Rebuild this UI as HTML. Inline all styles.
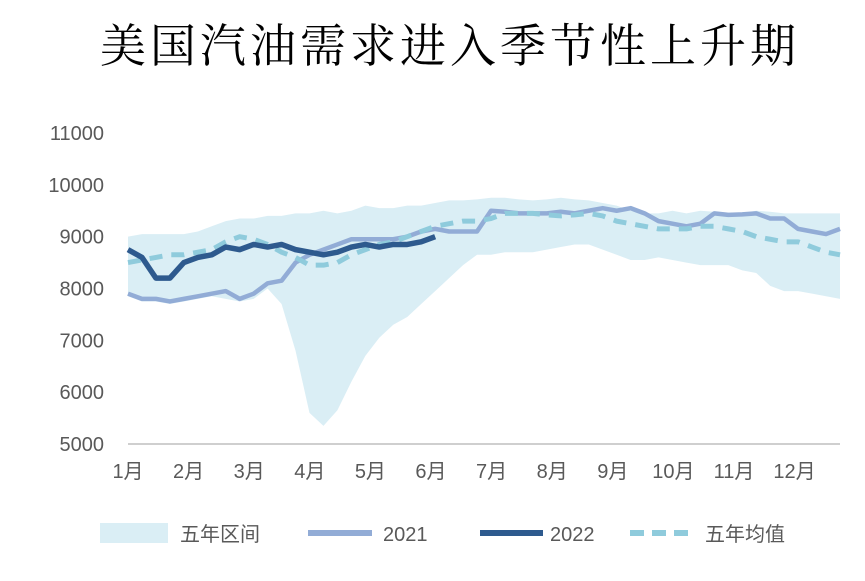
<!DOCTYPE html>
<html><head><meta charset="utf-8"><style>
body{margin:0;background:#fff;width:865px;height:576px;overflow:hidden}
svg text{font-family:"Liberation Sans","Noto Sans CJK SC",sans-serif;fill:#595959}
</style></head><body>
<svg id="c" width="865" height="576">
<text x="450" y="62" text-anchor="middle" style="font-family:'Liberation Serif','Noto Serif CJK SC',serif;font-size:46px;fill:#000;letter-spacing:4px">美国汽油需求进入季节性上升期</text>
<g id="plot"></g>
<g>
<rect x="100" y="523" width="68" height="20" fill="#daeef5"></rect>
<text x="180" y="541" font-size="20">五年区间</text>
<line x1="308" y1="533" x2="372" y2="533" stroke="#92acd6" stroke-width="6"></line>
<text x="383" y="541" font-size="20">2021</text>
<line x1="480" y1="533" x2="543" y2="533" stroke="#2e5a8e" stroke-width="6"></line>
<text x="550" y="541" font-size="20">2022</text>
<line x1="630" y1="533" x2="692" y2="533" stroke="#8fcbdc" stroke-width="6" stroke-dasharray="14,8"></line>
<text x="705" y="541" font-size="20">五年均值</text>
</g>
</svg>
<script>
const months=["1月","2月","3月","4月","5月","6月","7月","8月","9月","10月","11月","12月"];
const yTicks=[5000,6000,7000,8000,9000,10000,11000];
const bandUpper=[9000,9050,9050,9050,9050,9100,9200,9300,9350,9350,9400,9400,9450,9450,9500,9450,9500,9600,9550,9550,9600,9600,9650,9700,9700,9720,9750,9750,9720,9700,9720,9750,9720,9700,9650,9600,9500,9450,9450,9500,9450,9500,9480,9450,9450,9500,9480,9450,9450,9450,9450,9450];
const bandLower=[7850,7750,7750,7700,7750,7800,7850,7800,7750,7800,8000,7700,6800,5600,5350,5650,6200,6700,7050,7300,7450,7700,7950,8200,8450,8650,8650,8700,8700,8700,8750,8800,8850,8850,8750,8650,8550,8550,8600,8550,8500,8450,8450,8450,8350,8300,8050,7950,7950,7900,7850,7800];
const s2021=[7900,7800,7800,7750,7800,7850,7900,7950,7800,7900,8100,8150,8500,8650,8750,8850,8950,8950,8950,8950,9000,9100,9150,9100,9100,9100,9500,9480,9450,9450,9450,9480,9450,9500,9550,9500,9550,9450,9300,9250,9200,9250,9450,9420,9430,9450,9350,9350,9150,9100,9050,9150];
const s2022=[8750,8600,8200,8200,8500,8600,8650,8800,8750,8850,8800,8850,8750,8700,8650,8700,8800,8850,8800,8850,8850,8900,9000];
const avg5=[8500,8550,8600,8650,8650,8700,8750,8900,9000,8950,8850,8700,8600,8450,8450,8500,8650,8750,8850,8900,9000,9100,9200,9250,9300,9300,9350,9450,9450,9450,9420,9400,9420,9450,9400,9300,9250,9200,9150,9150,9150,9200,9200,9150,9100,9000,8950,8900,8900,8800,8700,8650];
const NS="http://www.w3.org/2000/svg",g=document.getElementById('plot');
const X0=128,X1=840,Y0=444,YT=133;
const x=i=>X0+i*(X1-X0)/51;
const y=v=>Y0-(v-5000)*(Y0-YT)/6000;
function mk(t,a){const e=document.createElementNS(NS,t);for(const k in a)e.setAttribute(k,a[k]);g.appendChild(e);return e;}
let d=bandUpper.map((v,i)=>(i?'L':'M')+x(i)+','+y(v)).join('')+bandLower.map((v,i)=>i).reverse().map(i=>'L'+x(i)+','+y(bandLower[i])).join('')+'Z';
const band=mk('path',{d:d,fill:'#daeef5'});


const ax=mk('line',{x1:X0,y1:Y0,x2:X1,y2:Y0,stroke:'#bfbfbf','stroke-width':1.5});


yTicks.forEach(v=>{const t=mk('text',{x:104,y:y(v)+7,'text-anchor':'end','font-size':20});t.textContent=v;

});
months.forEach((m,i)=>{const xm=X0+i*(X1-X0)/11.75;const t=mk('text',{x:xm,y:478,'text-anchor':'middle','font-size':20});t.textContent=m;

});
function line(arr,col,w,dash,name){const p=mk('path',{d:arr.map((v,i)=>(i?'L':'M')+x(i)+','+y(v)).join(''),fill:'none',stroke:col,'stroke-width':w,'stroke-linejoin':'round'});if(dash)p.setAttribute('stroke-dasharray',dash);

}
line(s2021,'#92acd6',4.5,null,'line-2021');
line(avg5,'#8fcbdc',5,'13,9','line-five-year-avg');
line(s2022,'#2e5a8e',5.5,null,'line-2022');
</script>
</body></html>
